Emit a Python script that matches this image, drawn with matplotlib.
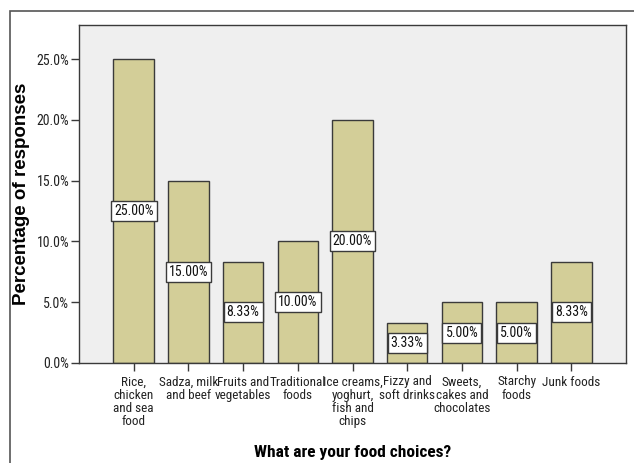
import matplotlib.pyplot as plt
from matplotlib.patches import Rectangle
from matplotlib.ticker import FuncFormatter

categories = [
    "Rice,\nchicken\nand sea\nfood",
    "Sadza, milk\nand beef",
    "Fruits and\nvegetables",
    "Traditional\nfoods",
    "Ice creams,\nyoghurt,\nfish and\nchips",
    "Fizzy and\nsoft drinks",
    "Sweets,\ncakes and\nchocolates",
    "Starchy\nfoods",
    "Junk foods",
]
percentages = [25.00, 15.00, 8.33, 10.00, 20.00, 3.33, 5.00, 5.00, 8.33]
y_ticks = [0, 5, 10, 15, 20, 25]

BAR_COLOR = "#D3CE98"
PANEL_COLOR = "#EFEFEF"
EDGE_COLOR = "#3A3A3A"
NARROW = ["Roboto Condensed", "Liberation Sans", "DejaVu Sans"]
WIDE = ["Liberation Sans", "DejaVu Sans"]

plt.rcParams["font.family"] = NARROW

fig = plt.figure(figsize=(6.34, 4.63), dpi=100)
ax = fig.add_axes([79 / 634, 1 - 363 / 463, (626 - 79) / 634, (363 - 25) / 463])

# outer chart frame, running off the right and bottom edges
fig.patches.append(Rectangle((10 / 634, -0.1), 1.2, 1 - 11 / 463 + 0.1,
                             transform=fig.transFigure, fill=False,
                             edgecolor="#555555", linewidth=1.2, clip_on=False))

ax.set_facecolor(PANEL_COLOR)
x = list(range(len(categories)))
ax.bar(x, percentages, width=0.74, color=BAR_COLOR, edgecolor=EDGE_COLOR,
       linewidth=1.0, zorder=2)

for xi, val in zip(x, percentages):
    ax.text(xi, val / 2, f"{val:.2f}%", ha="center", va="center", fontsize=10,
            zorder=3, color="#111111",
            bbox=dict(boxstyle="square,pad=0.22", facecolor="white",
                      edgecolor=EDGE_COLOR, linewidth=1.0))

ax.set_xlim(-1, len(categories))
ax.set_ylim(0, 27.8)
ax.set_yticks(y_ticks)
ax.yaxis.set_major_formatter(FuncFormatter(lambda v, _: f"{v:.1f}%"))
ax.set_xticks(x)
ax.set_xticklabels(categories, fontsize=9.5, linespacing=1.02)
ax.tick_params(axis="y", labelsize=10, length=6, width=1, color=EDGE_COLOR, pad=1,
               labelcolor="#222222")
ax.tick_params(axis="x", length=6, width=1, color=EDGE_COLOR, pad=3,
               labelcolor="#222222")

for spine in ax.spines.values():
    spine.set_color(EDGE_COLOR)
    spine.set_linewidth(1.0)

ax.set_ylabel("Percentage of responses", fontsize=13.5, fontweight="bold", family=WIDE)
ax.yaxis.set_label_coords((22 - 79) / 547, 0.5)
ax.set_xlabel("What are your food choices?", fontsize=12.5, fontweight="bold")
ax.xaxis.set_label_coords(0.5, (363 - 452) / 338)
ax.xaxis.label.set_va("center")
ax.yaxis.label.set_va("center")

fig.savefig("out.png", dpi=100)
